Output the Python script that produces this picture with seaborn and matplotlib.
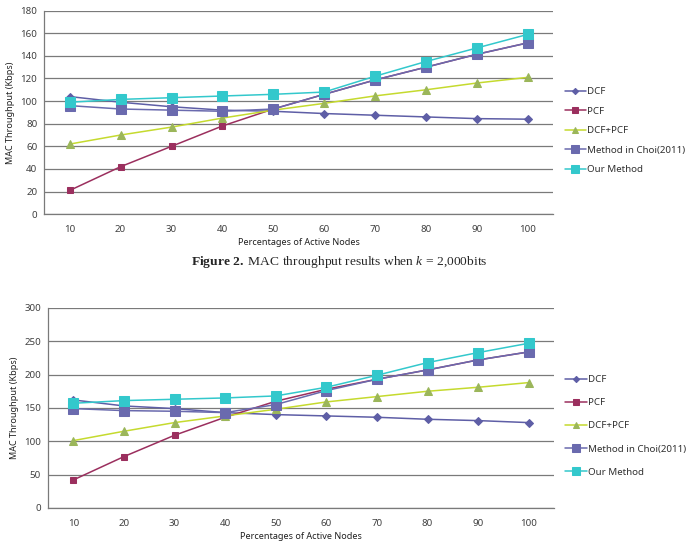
import matplotlib
matplotlib.use("Agg")
import matplotlib.pyplot as plt
import seaborn as sns
import numpy as np
import pandas as pd

# categories on the x axis
nodes = [10, 20, 30, 40, 50, 60, 70, 80, 90, 100]
series_names = ["DCF", "PCF", "DCF+PCF", "Method in Choi(2011)", "Our Method"]

# upper chart (Kbps)
top_dcf = [104, 99, 95, 92, 91, 89, 87.5, 86, 84.5, 84]
top_pcf = [21, 42, 60, 78, 93, 106, 118.7, 130, 141.4, 151.5]
top_dcfpcf = [62, 70, 77, 85, 92, 98, 104.6, 110, 116, 121]
top_choi = [96, 93, 92, 91, 93, 106, 118.7, 130, 141.4, 151.5]
top_our = [99, 101.5, 103, 104.5, 106, 108, 122, 135, 147, 159]

# lower chart (Kbps)
bot_dcf = [162, 153, 149, 143, 140, 138, 136, 133, 131, 128]
bot_pcf = [42, 77, 109, 136, 160, 178, 193, 207, 222, 234]
bot_dcfpcf = [101, 115, 128, 138, 148, 159, 167, 175, 181, 188]
bot_choi = [149, 146, 145, 143, 155, 176, 193, 207, 222, 234]
bot_our = [157, 161, 163, 165, 168, 181, 199, 218, 233, 247]

styles = {
    "DCF": dict(color="#5E5EA6", marker="D", markersize=4.2, mfc="#5E5EA6", mec="#5E5EA6"),
    "PCF": dict(color="#9B2F5E", marker="s", markersize=5.0, mfc="#9B2F5E", mec="#9B2F5E"),
    "DCF+PCF": dict(color="#C5DA2E", marker="^", markersize=6.0, mfc="#9BB65A", mec="#9BB65A"),
    "Method in Choi(2011)": dict(color="#6A6AAE", marker="s", markersize=7.0, mfc="#6A6AAE", mec="#6A6AAE"),
    "Our Method": dict(color="#33C8CC", marker="s", markersize=7.8, mfc="#33C8CC", mec="#33C8CC"),
}

sns.set_style("white")
plt.rcParams["font.family"] = ["Noto Sans", "DejaVu Sans"]
plt.rcParams["mathtext.fontset"] = "custom"
plt.rcParams["mathtext.rm"] = "Liberation Serif"
plt.rcParams["mathtext.it"] = "Liberation Serif:italic"
plt.rcParams["mathtext.bf"] = "Liberation Serif:bold"

fig = plt.figure(figsize=(6.86, 5.45), dpi=100)


def draw_panel(ax, values, ymax, ystep, legend_y, legend_gap):
    pos = np.arange(len(nodes))
    df = pd.DataFrame({name: vals for name, vals in zip(series_names, values)})
    df["pos"] = pos
    for name in series_names:
        st = styles[name]
        sns.lineplot(
            data=df, x="pos", y=name, ax=ax, label=name,
            color=st["color"], marker=st["marker"], markersize=st["markersize"],
            markerfacecolor=st["mfc"], markeredgecolor=st["mec"], linewidth=1.1,
        )
    ax.set_xlim(-0.5, len(nodes) - 0.5)
    ax.set_ylim(0, ymax)
    ax.set_yticks(np.arange(0, ymax + 1, ystep))
    ax.yaxis.grid(True, color="#7a7a7a", linewidth=0.9)
    ax.set_axisbelow(True)
    ax.set_xticks(np.arange(-0.5, len(nodes)), labels=[])
    ax.set_xticks(pos, labels=[str(n) for n in nodes], minor=True)
    ax.tick_params(axis="x", which="major", length=3, direction="out", color="#7a7a7a", width=0.8)
    ax.tick_params(axis="x", which="minor", length=0, pad=8, labelsize=7, labelcolor="#404040")
    ax.tick_params(axis="y", length=3, direction="out", color="#7a7a7a", width=0.8,
                   labelsize=7, labelcolor="#404040", pad=2)
    for side in ["top", "right"]:
        ax.spines[side].set_visible(False)
    for side in ["left", "bottom"]:
        ax.spines[side].set_color("#7a7a7a")
        ax.spines[side].set_linewidth(0.9)
    ax.set_xlabel("Percentages of Active Nodes", fontsize=6.5, color="#202020", labelpad=3)
    ax.set_ylabel("MAC Throughput (Kbps)", fontsize=6.5, color="#202020", labelpad=4)
    leg = ax.legend(loc="center left", bbox_to_anchor=(1.005, legend_y), frameon=False,
                    fontsize=7, labelspacing=legend_gap, handlelength=2.2, handletextpad=0.1,
                    markerscale=0.75)
    for t in leg.get_texts():
        t.set_color("#303030")


ax1 = fig.add_axes([0.0645, 0.607, 0.742, 0.3735])
draw_panel(ax1, [top_dcf, top_pcf, top_dcfpcf, top_choi, top_our], 180, 20, 0.41, 1.08)

ax2 = fig.add_axes([0.0700, 0.068, 0.7376, 0.367])
draw_panel(ax2, [bot_dcf, bot_pcf, bot_dcfpcf, bot_choi, bot_our], 300, 50, 0.41, 1.45)

fig.text(0.494, 0.519, r"$\bf{Figure\ 2.}$ MAC throughput results when $\it{k}$ = 2,000bits",
         ha="center", va="center", fontsize=9.7, family="Liberation Serif")

plt.savefig("out.png", dpi=100)
plt.close()
